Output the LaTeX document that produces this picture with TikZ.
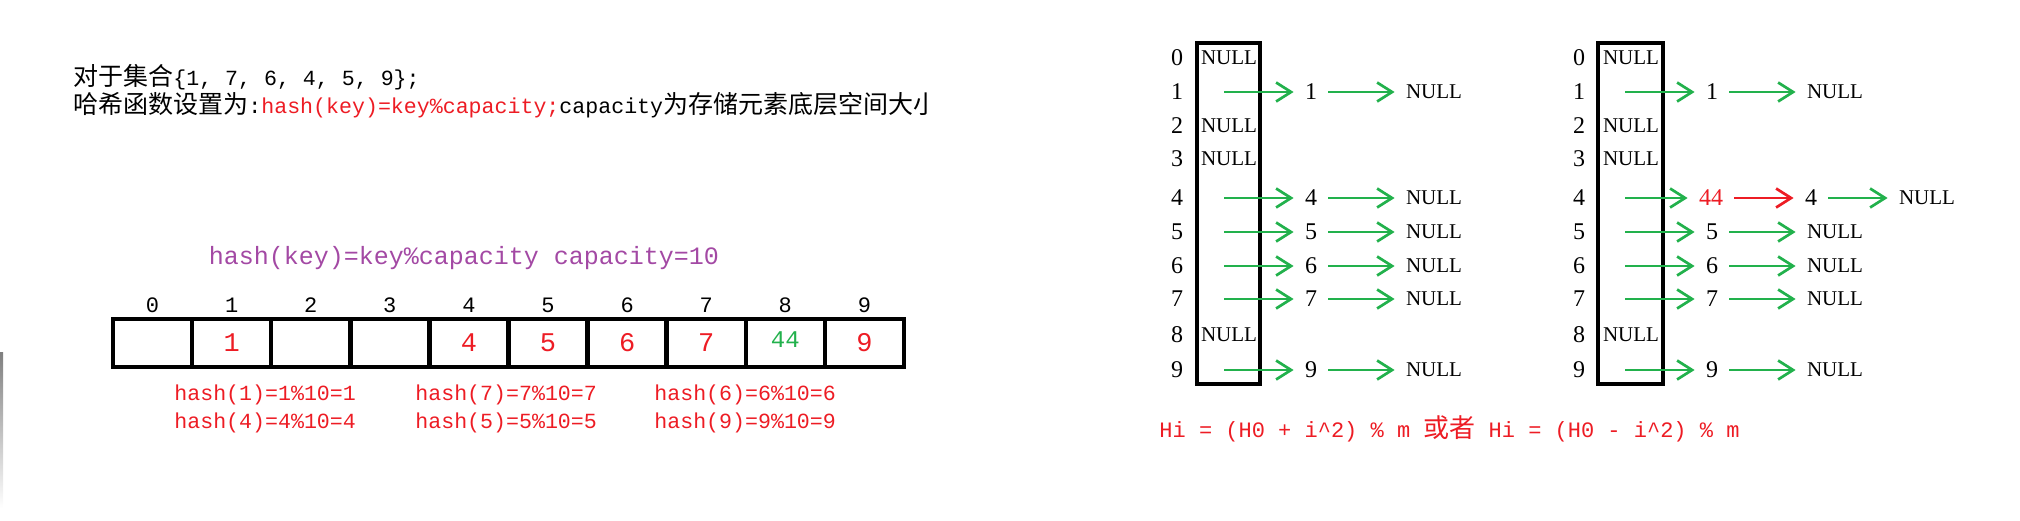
\documentclass[tikz,border=0pt]{standalone}
\usepackage{fontspec}
\setmainfont{Liberation Serif}
\setmonofont{Liberation Mono}
\newfontfamily\cjk{Noto Sans CJK SC}
\usetikzlibrary{arrows.meta,positioning}
\definecolor{hred}{RGB}{237,28,36}
\definecolor{hgreen}{RGB}{34,177,76}
\definecolor{hpurple}{RGB}{163,73,164}
\definecolor{shade}{RGB}{222,222,222}
\newcommand\zh[2][12.5]{{\cjk\fontsize{#1}{#1}\selectfont #2}}
\tikzset{
  >={Straight Barb[length=7.5pt,width=9.5pt]},
  mono/.style={font=\ttfamily\fontsize{#1}{#1}\selectfont,inner sep=0pt},
  mono/.default=10.8,
  cell/.style={draw,line width=2.25pt,minimum width=39.55pt,minimum height=24pt,inner sep=0pt},
  idx/.style={font=\ttfamily\fontsize{11}{11}\selectfont,inner sep=0pt,anchor=base},
  val/.style={font=\ttfamily\fontsize{13.5}{13.5}\selectfont,text=hred},
  slot/.style={draw,line width=2pt,inner sep=0pt},
  rowlab/.style={font=\fontsize{12}{12}\selectfont,inner sep=0pt},
  nullbox/.style={font=\fontsize{10.5}{10.5}\selectfont,inner sep=5.5pt},
  item/.style={font=\fontsize{12}{12}\selectfont,inner sep=5.5pt},
  ptr/.style={->,line width=1.35pt,draw=#1},
  ptr/.default=hgreen,
}

\begin{document}
\begin{tikzpicture}[x=0.5pt,y=-0.5pt]
  \useasboundingbox (0,0) rectangle (2020,520);
  \fill[shade] (0,352) rectangle (3,508);

  % problem statement
  \node[mono,anchor=base west] (set) at (73,85)
    {\zh{对于集合}\{1, 7, 6, 4, 5, 9\};};
  \begin{scope}
    \clip (0,0) rectangle (927,520);
    \node[mono,anchor=base west] (func) at (73,113)
      {\zh{哈希函数设置为}:{\color{hred}hash(key)=key\%capacity;}capacity\zh{为存储元素底层空间大小}};
  \end{scope}

  % direct addressing array
  \node[mono=12.5,text=hpurple,anchor=base] (title) at (464,264)
    {hash(key)=key\%capacity capacity=10};
  \foreach \i/\v in {0/,1/1,2/,3/,4/4,5/5,6/6,7/7,8/,9/9}{
    \node[cell] (c\i) at ({152.5+79.1*\i},343) {};
    \node[val] (v\i) at (c\i) {\v};
    \node[idx] (i\i) at ({152.5+79.1*\i},312) {\i};
  }
  \node[val,font=\ttfamily\fontsize{12}{12}\selectfont,text=hgreen] (v44) at ({152.5+79.1*8},340) {44};
  \foreach \t/\x/\y in {hash(1)=1\%10=1/174/400,hash(7)=7\%10=7/415/400,hash(6)=6\%10=6/654/400,
                        hash(4)=4\%10=4/174/428,hash(5)=5\%10=5/415/428,hash(9)=9\%10=9/654/428}
    \node[mono,text=hred,anchor=base west] at (\x,\y) {\t};

  % separate chaining, before inserting 44
  \node[slot,minimum width=31.5pt,minimum height=170.5pt] (tabA) at (1228.5,213.5) {};
  \foreach \i/\y in {0/58,1/92,2/126,3/159,4/198,5/232,6/266,7/299,8/335,9/370}
    \node[rowlab] (la\i) at (1177,\y) {\i};
  \foreach \i/\y in {0/58,2/126,3/159,8/335}
    \node[nullbox] (na\i) at (1229,\y) {NULL};
  \foreach \i/\y in {1/92,4/198,5/232,6/266,7/299,9/370}{
    \coordinate (sa\i) at (1224,\y);
    \node[item] (ka\i) at (1311,\y) {\i};
    \node[nullbox] (ea\i) at (1434,\y) {NULL};
    \draw[ptr] (sa\i) -- (ka\i);
    \draw[ptr] (ka\i) -- (ea\i);
  }

  % separate chaining, 44 put in front of 4
  \node[slot,minimum width=32.5pt,minimum height=170.5pt] (tabB) at (1630.5,213.5) {};
  \foreach \i/\y in {0/58,1/92,2/126,3/159,4/198,5/232,6/266,7/299,8/335,9/370}
    \node[rowlab] (lb\i) at (1579,\y) {\i};
  \foreach \i/\y in {0/58,2/126,3/159,8/335}
    \node[nullbox] (nb\i) at (1631,\y) {NULL};
  \foreach \i/\y in {1/92,5/232,6/266,7/299,9/370}{
    \coordinate (sb\i) at (1625,\y);
    \node[item] (kb\i) at (1712,\y) {\i};
    \node[nullbox] (eb\i) at (1835,\y) {NULL};
    \draw[ptr] (sb\i) -- (kb\i);
    \draw[ptr] (kb\i) -- (eb\i);
  }
  \coordinate (sb4) at (1625,198);
  \node[item,text=hred] (new) at (1711,198) {44};
  \node[item] (kb4) at (1811,198) {4};
  \node[nullbox] (eb4) at (1927,198) {NULL};
  \draw[ptr] (sb4) -- (new);
  \draw[ptr=hred] (new) -- (kb4);
  \draw[ptr] (kb4) -- (eb4);

  % probing formula
  \node[mono=11,text=hred,anchor=base west] (probe) at (1159,437)
    {Hi = (H0 + i\textasciicircum2) \% m \zh[13]{或者} Hi = (H0 - i\textasciicircum2) \% m};
\end{tikzpicture}
\end{document}
